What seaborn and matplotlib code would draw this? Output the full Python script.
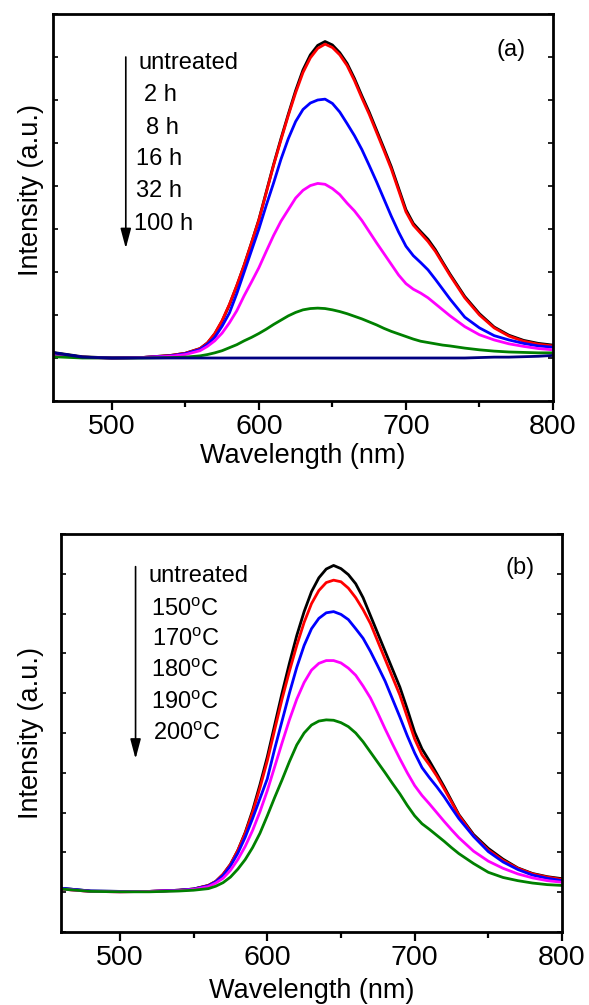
import matplotlib
matplotlib.use("Agg")
import numpy as np
import pandas as pd
import matplotlib.pyplot as plt
import seaborn as sns
from matplotlib.ticker import MultipleLocator

sns.set_style("ticks")
plt.rcParams['font.family'] = ['Liberation Sans', 'DejaVu Sans']
plt.rcParams['mathtext.fontset'] = 'custom'
plt.rcParams['mathtext.rm'] = 'Liberation Sans'
plt.rcParams['axes.edgecolor'] = 'black'
plt.rcParams['xtick.color'] = 'black'
plt.rcParams['ytick.color'] = 'black'
plt.rcParams['text.color'] = 'black'
plt.rcParams['axes.labelcolor'] = 'black'

# wavelength grid (nm)
wavelength = [460, 480, 500, 520, 540, 550, 560, 565, 570, 575, 580, 585, 590, 595, 600, 605,
              610, 615, 620, 625, 630, 635, 640, 645, 650, 655, 660, 665, 670, 675, 680, 685,
              690, 695, 700, 705, 710, 715, 720, 725, 730, 740, 750, 760, 770, 780, 790, 800]

# (a) aging time
labels_a = ['untreated', '2 h', '8 h', '16 h', '32 h', '100 h']
colors_a = ['black', 'red', 'blue', 'magenta', 'green', 'navy']
a_untreated = [0.13, 0.03, 0.0, 0.01, 0.06, 0.11, 0.22, 0.35, 0.56, 0.86, 1.24, 1.68, 2.16, 2.68, 3.22, 3.86,
               4.5, 5.1, 5.67, 6.22, 6.7, 7.05, 7.27, 7.36, 7.28, 7.1, 6.85, 6.5, 6.1, 5.72, 5.3, 4.88,
               4.45, 3.95, 3.45, 3.13, 2.94, 2.76, 2.52, 2.23, 1.95, 1.43, 1.03, 0.72, 0.53, 0.41, 0.34, 0.30]
a_2h = [0.07, 0.02, 0.0, 0.01, 0.06, 0.11, 0.22, 0.35, 0.57, 0.87, 1.25, 1.69, 2.16, 2.68, 3.21, 3.84,
        4.48, 5.07, 5.64, 6.17, 6.64, 6.98, 7.2, 7.3, 7.22, 7.05, 6.8, 6.45, 6.05, 5.67, 5.25, 4.83,
        4.4, 3.9, 3.4, 3.09, 2.9, 2.71, 2.48, 2.2, 1.92, 1.4, 1.0, 0.7, 0.51, 0.39, 0.32, 0.28]
a_8h = [0.12, 0.02, 0.0, 0.01, 0.05, 0.1, 0.2, 0.32, 0.48, 0.74, 1.05, 1.5, 2.0, 2.5, 3.0, 3.55,
        4.07, 4.62, 5.1, 5.5, 5.78, 5.93, 6.0, 6.02, 5.92, 5.72, 5.45, 5.17, 4.85, 4.48, 4.1, 3.7,
        3.3, 2.93, 2.6, 2.38, 2.22, 2.05, 1.83, 1.6, 1.37, 0.95, 0.7, 0.52, 0.42, 0.34, 0.28, 0.25]
a_16h = [0.07, 0.01, 0.0, 0.01, 0.04, 0.08, 0.17, 0.27, 0.4, 0.58, 0.82, 1.1, 1.45, 1.77, 2.1, 2.48,
         2.85, 3.18, 3.45, 3.72, 3.9, 4.01, 4.06, 4.04, 3.94, 3.8, 3.6, 3.42, 3.2, 2.94, 2.68, 2.43,
         2.18, 1.93, 1.73, 1.6, 1.51, 1.4, 1.26, 1.12, 0.98, 0.73, 0.54, 0.42, 0.33, 0.27, 0.22, 0.19]
a_32h = [0.03, 0.0, 0.0, 0.0, 0.01, 0.02, 0.05, 0.08, 0.12, 0.17, 0.24, 0.31, 0.4, 0.48, 0.57, 0.67,
         0.78, 0.88, 0.98, 1.06, 1.12, 1.15, 1.16, 1.15, 1.12, 1.08, 1.03, 0.97, 0.91, 0.84, 0.77, 0.69,
         0.62, 0.56, 0.5, 0.44, 0.39, 0.36, 0.33, 0.3, 0.28, 0.23, 0.19, 0.16, 0.14, 0.13, 0.12, 0.12]
a_100h = [0.12, 0.02, 0.0, 0.0, 0.0, 0.0, 0.0, 0.0, 0.0, 0.0, 0.0, 0.0, 0.0, 0.0, 0.0, 0.0,
          0.0, 0.0, 0.0, 0.0, 0.0, 0.0, 0.0, 0.0, 0.0, 0.0, 0.0, 0.0, 0.0, 0.0, 0.0, 0.0,
          0.0, 0.0, 0.0, 0.0, 0.0, 0.0, 0.0, 0.0, 0.0, 0.0, 0.01, 0.02, 0.02, 0.03, 0.04, 0.06]

# (b) annealing temperature
labels_b = ['untreated', '150$^{\\mathrm{o}}$C', '170$^{\\mathrm{o}}$C', '180$^{\\mathrm{o}}$C',
            '190$^{\\mathrm{o}}$C', '200$^{\\mathrm{o}}$C']
colors_b = ['black', 'red', 'blue', 'magenta', 'green']
b_untreated = [0.1, 0.03, 0.02, 0.02, 0.05, 0.08, 0.17, 0.27, 0.45, 0.7, 1.05, 1.5, 2.05, 2.7, 3.4, 4.2,
               5.0, 5.75, 6.45, 7.05, 7.55, 7.9, 8.12, 8.21, 8.13, 7.98, 7.75, 7.4, 6.95, 6.5, 6.05, 5.6,
               5.15, 4.6, 4.02, 3.6, 3.3, 2.98, 2.65, 2.3, 1.95, 1.45, 1.1, 0.83, 0.61, 0.47, 0.39, 0.34]
b_150 = [0.08, 0.02, 0.01, 0.02, 0.05, 0.08, 0.17, 0.27, 0.45, 0.7, 1.05, 1.48, 2.0, 2.62, 3.3, 4.08,
         4.85, 5.55, 6.2, 6.78, 7.25, 7.58, 7.78, 7.84, 7.8, 7.64, 7.4, 7.1, 6.75, 6.3, 5.85, 5.4,
         4.95, 4.4, 3.85, 3.45, 3.2, 2.92, 2.6, 2.27, 1.93, 1.42, 1.06, 0.8, 0.6, 0.46, 0.38, 0.32]
b_170 = [0.1, 0.03, 0.02, 0.02, 0.05, 0.08, 0.16, 0.26, 0.42, 0.66, 0.98, 1.38, 1.85, 2.35, 2.85, 3.6,
         4.3, 5.0, 5.65, 6.2, 6.62, 6.88, 7.02, 7.05, 6.98, 6.85, 6.62, 6.38, 6.05, 5.68, 5.3, 4.85,
         4.4, 3.93, 3.5, 3.13, 2.88, 2.65, 2.4, 2.12, 1.85, 1.4, 1.02, 0.76, 0.57, 0.43, 0.35, 0.29]
b_180 = [0.08, 0.02, 0.01, 0.02, 0.04, 0.07, 0.14, 0.23, 0.35, 0.55, 0.82, 1.15, 1.55, 2.02, 2.55, 3.15,
         3.75, 4.33, 4.85, 5.27, 5.58, 5.75, 5.82, 5.82, 5.76, 5.63, 5.45, 5.18, 4.88, 4.5, 4.1, 3.72,
         3.35, 3.0, 2.68, 2.43, 2.22, 2.0, 1.78, 1.57, 1.37, 1.03, 0.78, 0.6, 0.46, 0.36, 0.29, 0.25]
b_190 = [0.08, 0.02, 0.01, 0.01, 0.03, 0.05, 0.09, 0.15, 0.24, 0.38, 0.58, 0.82, 1.12, 1.48, 1.92, 2.38,
         2.82, 3.28, 3.7, 4.0, 4.2, 4.3, 4.33, 4.32, 4.26, 4.16, 4.0, 3.78, 3.52, 3.26, 3.0, 2.73,
         2.47, 2.18, 1.92, 1.72, 1.58, 1.43, 1.28, 1.12, 0.97, 0.72, 0.5, 0.37, 0.29, 0.23, 0.19, 0.17]


def make_df(series, labels):
    rows = []
    for lab, vals in zip(labels, series):
        rows.append(pd.DataFrame({'Wavelength': wavelength, 'Intensity': vals, 'sample': lab}))
    return pd.concat(rows, ignore_index=True)


def style_axis(ax, ymax):
    ax.set_xlim(460, 800)
    ax.set_ylim(-1, ymax)
    ax.xaxis.set_major_locator(MultipleLocator(100))
    ax.xaxis.set_minor_locator(MultipleLocator(50))
    ax.yaxis.set_major_locator(MultipleLocator(1))
    ax.tick_params(axis='x', which='major', direction='out', length=6.5, width=1.6,
                   labelsize=20.5, pad=3, top=False)
    ax.tick_params(axis='x', which='minor', direction='out', length=4, width=1.6, top=False)
    ax.tick_params(axis='y', which='major', direction='in', length=3.5, width=1.2,
                   left=True, right=True, labelleft=False)
    for sp in ax.spines.values():
        sp.set_linewidth(2.0)
        sp.set_color('black')
    ax.set_xlabel('Wavelength (nm)', fontsize=19.5)
    ax.set_ylabel('Intensity (a.u.)', fontsize=19.5)


fig = plt.figure(figsize=(5.89, 10.05), dpi=100)
ax1 = fig.add_axes([53 / 589, 1 - 401 / 1005, 500 / 589, 387 / 1005])
ax2 = fig.add_axes([61 / 589, 1 - 932 / 1005, 501 / 589, 398 / 1005])

# panel (a)
df_a = make_df([a_untreated, a_2h, a_8h, a_16h, a_32h, a_100h], labels_a)
sns.lineplot(data=df_a, x='Wavelength', y='Intensity', hue='sample', hue_order=labels_a,
             palette=colors_a, linewidth=2.0, legend=False, sort=False, ax=ax1)
style_axis(ax1, 8)
ax1.xaxis.set_label_coords(0.5, -0.108)
ax1.yaxis.set_label_coords(-0.018, 0.545)

text_a_x = [518.4, 521.8, 523.1, 516.3, 516.3, 514.9]
text_a_y = [6.86, 6.12, 5.35, 4.63, 3.88, 3.12]
for lab, x, y in zip(labels_a, text_a_x, text_a_y):
    ax1.text(x, y, lab, fontsize=17, ha='left', va='center')
ax1.annotate('', xy=(509.5, 2.55), xytext=(509.5, 7.0),
             arrowprops=dict(arrowstyle='-|>,head_length=0.6,head_width=0.16',
                             mutation_scale=20, lw=1.2, color='black', shrinkA=0, shrinkB=0))
ax1.text(771.4, 7.16, '(a)', fontsize=17, ha='center', va='center')

# panel (b)
df_b = make_df([b_untreated, b_150, b_170, b_180, b_190], labels_b[:5])
sns.lineplot(data=df_b, x='Wavelength', y='Intensity', hue='sample', hue_order=labels_b[:5],
             palette=colors_b, linewidth=2.0, legend=False, sort=False, ax=ax2)
style_axis(ax2, 9)
ax2.xaxis.set_label_coords(0.5, -0.115)
ax2.yaxis.set_label_coords(-0.033, 0.5)

text_b_x = [519.5, 520.8, 521.5, 520.8, 520.8, 522.2]
text_b_y = [7.94, 7.11, 6.36, 5.56, 4.76, 3.98]
for lab, x, y in zip(labels_b, text_b_x, text_b_y):
    ax2.text(x, y, lab, fontsize=17, ha='left', va='center')
ax2.annotate('', xy=(510.6, 3.35), xytext=(510.6, 8.18),
             arrowprops=dict(arrowstyle='-|>,head_length=0.6,head_width=0.16',
                             mutation_scale=20, lw=1.2, color='black', shrinkA=0, shrinkB=0))
ax2.text(771.7, 8.15, '(b)', fontsize=17, ha='center', va='center')

fig.savefig('out.png', dpi=100)
